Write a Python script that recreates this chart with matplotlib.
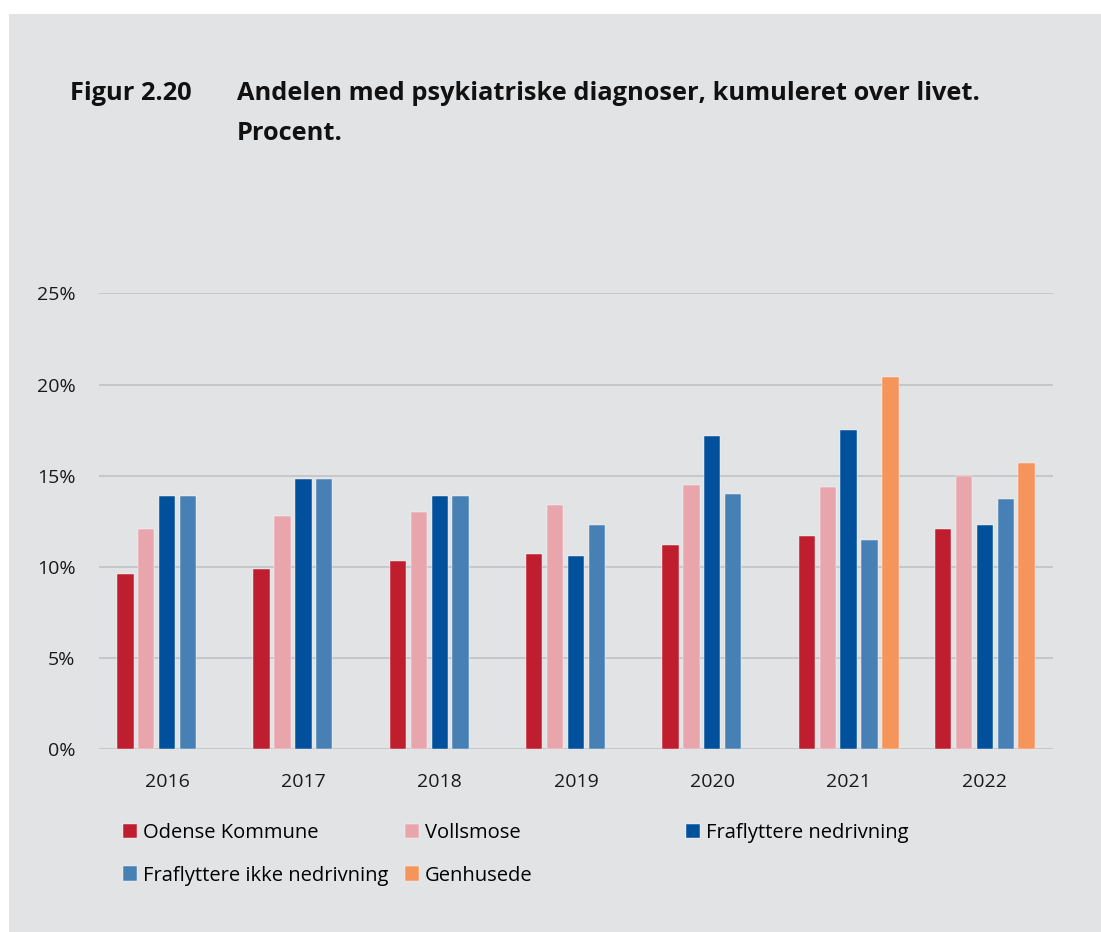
import numpy as np
import matplotlib
matplotlib.use("Agg")
import matplotlib.pyplot as plt
from matplotlib.patches import Rectangle

plt.rcParams['font.family'] = ['Open Sans', 'DejaVu Sans']

years = ['2016', '2017', '2018', '2019', '2020', '2021', '2022']
odense = [9.6, 9.9, 10.3, 10.7, 11.2, 11.7, 12.1]
vollsmose = [12.1, 12.8, 13.0, 13.4, 14.5, 14.4, 15.0]
fraf_ned = [13.9, 14.8, 13.9, 10.6, 17.2, 17.5, 12.3]
fraf_ikke = [13.9, 14.8, 13.9, 12.3, 14.0, 11.5, 13.7]
genhusede = [np.nan, np.nan, np.nan, np.nan, np.nan, 20.4, 15.7]

series = [
    ('Odense Kommune', odense, '#BE1E2D'),
    ('Vollsmose', vollsmose, '#E8A6AC'),
    ('Fraflyttere nedrivning', fraf_ned, '#00509B'),
    ('Fraflyttere ikke nedrivning', fraf_ikke, '#4780B4'),
    ('Genhusede', genhusede, '#F5955B'),
]

bg = '#E2E3E5'
fig = plt.figure(figsize=(11.01, 9.32), dpi=100)
fig.patch.set_facecolor('white')
# gray panel
fig.patches.append(Rectangle((9 / 1101, 0), 1, 1 - 14 / 932, transform=fig.transFigure,
                             facecolor=bg, edgecolor='none', zorder=-1))

ax = fig.add_axes([99 / 1101, 1 - 749.3 / 932, (1053 - 99) / 1101, (749.3 - 293.3) / 932])
ax.set_facecolor(bg)

x = np.arange(len(years)) + 0.5
pitch = 0.1533
width = 0.12
handles = []
for i, (name, vals, col) in enumerate(series):
    b = ax.bar(x + (i - 2) * pitch, vals, width, color=col, label=name,
               edgecolor='white', linewidth=0.3, zorder=3)
    handles.append(b)

ax.set_xlim(0, len(years))
ax.set_ylim(0, 25)
ax.set_yticks([0, 5, 10, 15, 20, 25])
ax.set_yticklabels(['0%', '5%', '10%', '15%', '20%', '25%'])
ax.set_xticks(x)
ax.set_xticklabels(years)
ax.tick_params(axis='both', length=0, labelsize=14, colors='#1a1a1a')
ax.tick_params(axis='y', pad=17)
ax.tick_params(axis='x', pad=17)
for s in ax.spines.values():
    s.set_visible(False)
ax.grid(axis='y', color='#C4C5C8', lw=1.3, zorder=0)
ax.set_axisbelow(True)

# title
fig.text(70 / 1101, 1 - 100 / 932, 'Figur 2.20', fontsize=18.3, fontweight='bold',
         va='baseline', ha='left', color='#111111')
fig.text(237 / 1101, 1 - 100 / 932, 'Andelen med psykiatriske diagnoser, kumuleret over livet.',
         fontsize=18.3, fontweight='bold', va='baseline', ha='left', color='#111111')
fig.text(237 / 1101, 1 - 140 / 932, 'Procent.', fontsize=18.3, fontweight='bold',
         va='baseline', ha='left', color='#111111')

# legend laid out in three columns, filled row-wise
cols = [(123, [0, 3]), (405, [1, 4]), (686, [2])]
for xpix, idx in cols:
    leg = fig.legend([handles[k] for k in idx], [series[k][0] for k in idx],
                     loc='upper left', bbox_to_anchor=(xpix / 1101, 1 - 823 / 932),
                     frameon=False, fontsize=14.5, handlelength=0.7, handleheight=0.7,
                     handletextpad=0.3, labelspacing=1.12, borderaxespad=0,
                     borderpad=0)

fig.savefig('out.png', dpi=100, facecolor=fig.get_facecolor())
